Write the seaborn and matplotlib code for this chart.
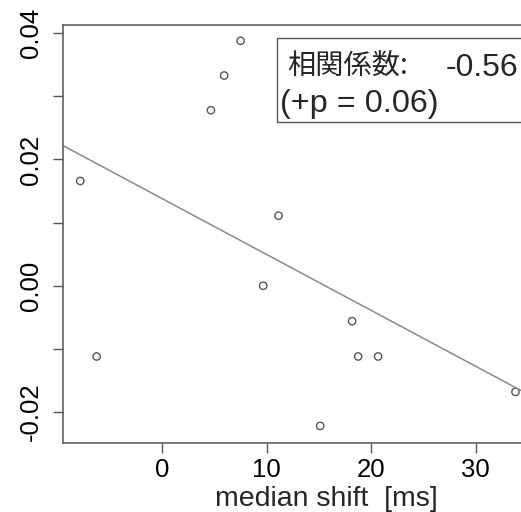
import matplotlib
matplotlib.use("Agg")
import matplotlib.pyplot as plt
import seaborn as sns
import numpy as np
import pandas as pd
from matplotlib.patches import Rectangle

# data
median_shift = [7.50, 5.93, 4.66, -7.85, 11.14, 9.67, 18.18, 18.76, 20.67, 33.82, 15.12, -6.28]
effect = [0.0388, 0.0333, 0.0278, 0.0166, 0.0111, 0.0000, -0.0056, -0.0112, -0.0112, -0.0168, -0.0222, -0.0112]
x_ticks = [0, 10, 20, 30]
y_ticks = [-0.02, -0.01, 0.00, 0.01, 0.02, 0.03, 0.04]
y_tick_labels = ["-0.02", "", "0.00", "", "0.02", "", "0.04"]
x_label = "median shift  [ms]"
box_label = "相関係数:"
box_value = "-0.56"
box_line2 = "(+p = 0.06)"

df = pd.DataFrame({"x": median_shift, "y": effect})

sns.set_style("white")
plt.rcParams["font.family"] = ["Liberation Sans", "Noto Sans CJK JP", "DejaVu Sans"]

W, H = 521, 512
fig = plt.figure(figsize=(W / 100, H / 100), dpi=100)
ax = fig.add_axes([63 / W, (H - 443) / H, (W - 63) / W, (443 - 25) / H])
ax.set_xlim(-9.5, 34.35)
ax.set_ylim(-0.0249, 0.0413)

sns.regplot(data=df, x="x", y="y", ax=ax, scatter=False, ci=None, truncate=False,
            line_kws=dict(color="#8a8a8a", lw=1.1))
sns.scatterplot(data=df, x="x", y="y", ax=ax, marker="o", s=28,
                facecolors="none", edgecolor="#555555", linewidth=1.0)

ax.set_xlim(-9.5, 34.35)
ax.set_ylim(-0.0249, 0.0413)
ax.set_xticks(x_ticks)
ax.set_yticks(y_ticks)
ax.set_yticklabels(y_tick_labels, rotation=90, va="center")
ax.tick_params(axis="both", which="major", bottom=True, left=True, direction="out",
               length=7.2, width=1.0, color="#555555",
               labelsize=18.5, labelcolor="black")
ax.tick_params(axis="x", pad=3.5)
ax.tick_params(axis="y", pad=7)
for s in ["left", "bottom", "top"]:
    ax.spines[s].set_color("#555555")
    ax.spines[s].set_linewidth(1.1)
ax.spines["right"].set_visible(False)
ax.set_xlabel(x_label, fontsize=20.5)
ax.xaxis.label.set_va("baseline")
ax.set_ylabel("")
ax.xaxis.set_label_coords((326.5 - 63) / (W - 63), (443 - 505.5) / (443 - 25))

# annotation box
fig.add_artist(Rectangle((276.7 / W, (H - 121.7) / H), (W - 276.7 + 5) / W, (121.7 - 38.3) / H,
                         transform=fig.transFigure, fill=True, facecolor="white",
                         edgecolor="#555555", lw=1.0, clip_on=False))
fig.text(287.5 / W, (H - 74.5) / H, box_label, fontsize=20.3, va="baseline", ha="left",
         family=["Noto Sans CJK JP"])
fig.text(445.5 / W, (H - 76) / H, box_value, fontsize=23.0, va="baseline", ha="left")
fig.text(280.5 / W, (H - 112) / H, box_line2, fontsize=23.3, va="baseline", ha="left")

fig.savefig("out.png", dpi=100)
